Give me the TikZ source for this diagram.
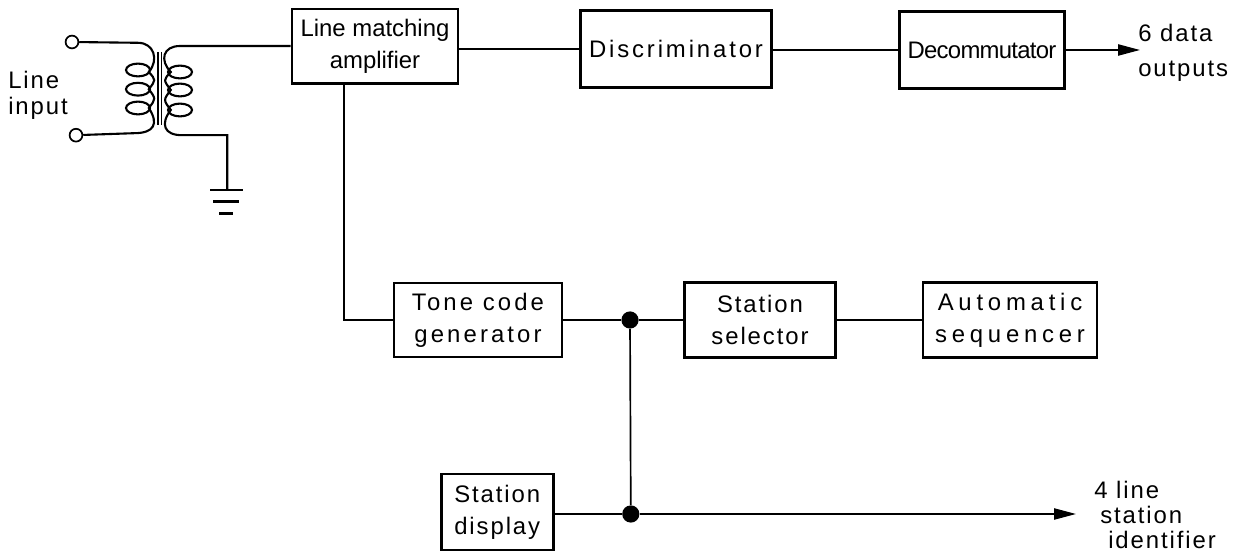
\documentclass[tikz,border=0pt]{standalone}
\usepackage{fontspec}
\setmainfont[LetterSpace=8]{Liberation Sans}
\usetikzlibrary{arrows.meta, positioning, calc}
\tikzset{
    blockbox/.style={draw, rectangle, line width=2.1pt, inner sep=0pt, align=center, font=\fontsize{17}{23}\selectfont},
    tightbox/.style={blockbox, font=\fontsize{17}{23}\selectfont\addfontfeature{LetterSpace=0}},
    widebox/.style={blockbox, font=\fontsize{17}{23}\selectfont\addfontfeature{LetterSpace=#1}},
    wire/.style={line width=1.2pt},
    coilwire/.style={line width=1.5pt},
    outarrow/.style={line width=1.2pt, -{Stealth[length=5.5mm, width=2.8mm, inset=0pt]}},
    junction/.style={circle, fill=black, inner sep=0pt, minimum size=0.43cm},
    terminal/.style={circle, draw, line width=1.2pt, fill=white, inner sep=0pt, minimum size=0.32cm},
    lbl/.style={inner sep=0pt, anchor=west, font=\fontsize{17}{23}\selectfont},
}
\begin{document}
\begin{tikzpicture}
    \useasboundingbox (0,0) rectangle (31.1,13.8);
    % blocks
    \node[tightbox, minimum width=4.15cm, minimum height=1.87cm] (amp) at (9.375,12.64) {Line matching\\amplifier};
    \node[widebox=12, minimum width=4.78cm, minimum height=1.92cm] (disc) at (16.9,12.57) {Discriminator};
    \node[widebox=-3, minimum width=4.12cm, minimum height=1.92cm] (decom) at (24.55,12.55) {Decommutator};
    \node[widebox=13, minimum width=4.2cm, minimum height=1.85cm] (tone) at (11.95,5.8) {Tone code\\generator};
    \node[blockbox, minimum width=3.77cm, minimum height=1.87cm] (sel) at (19.0,5.8) {Station\\selector};
    \node[widebox=20, minimum width=4.35cm, minimum height=1.87cm] (seq) at (25.25,5.8) {Automatic\\sequencer};
    \node[blockbox, minimum width=2.8cm, minimum height=1.9cm] (disp) at (12.43,1.0) {Station\\display};

    \node[junction] (dota) at (15.75,5.8) {};
    \node[junction] (dotb) at (15.77,0.95) {};
    \coordinate (out1) at (28.5,12.55);
    \coordinate (out2) at (26.9,0.95);
    \coordinate (turn) at (8.6,5.8);

    % signal path
    \draw[wire] (amp.east |- disc.west) -- (disc.west);
    \draw[wire] (disc.east |- decom.west) -- (decom.west);
    \draw[outarrow] (decom.east) -- (out1);
    \draw[wire] (amp.south -| turn) -- (turn) -- (tone.west);
    \draw[wire] (tone.east) -- (dota) -- (sel.west);
    \draw[wire] (sel.east) -- (seq.west);
    \draw[wire] (dota) -- (dotb);
    \draw[wire] (disp.east |- dotb) -- (dotb);
    \draw[outarrow] (dotb) -- (out2);

    % transformer
    \node[terminal] (ina) at (1.8,12.75) {};
    \node[terminal] (inb) at (1.9,10.42) {};
    \coordinate (gnd) at (5.68,9.05);
    \coordinate (gndl) at (5.25,9.05);
    \coordinate (gndr) at (6.08,9.05);
    \draw[coilwire] (ina) -- (3.45,12.73) .. controls (3.85,12.73) and (3.98,12.3) .. (3.72,12.0)
        .. controls (3.9,11.8) .. (3.72,11.57) .. controls (3.9,11.33) .. (3.72,11.1)
        .. controls (3.98,10.7) and (3.85,10.47) .. (3.35,10.47) -- (inb);
    \foreach \cy in {12.05,11.57,11.1}
        \draw[coilwire] (3.45,\cy) ellipse (0.3 and 0.16);
    \draw[line width=0.8pt] (3.95,12.5) -- (3.95,10.68);
    \draw[line width=0.8pt] (4.03,12.5) -- (4.03,10.68);
    \draw[coilwire] (amp.west |- 0,12.65) -- (4.5,12.65) .. controls (4.08,12.65) and (3.98,12.3) .. (4.27,12.0)
        .. controls (4.08,11.8) .. (4.27,11.55) .. controls (4.08,11.3) .. (4.27,11.05)
        .. controls (4.0,10.7) and (4.1,10.42) .. (4.55,10.42) -- (5.68,10.42) -- (gnd);
    \foreach \cy in {12.0,11.55,11.05}
        \draw[coilwire] (4.5,\cy) ellipse (0.3 and 0.16);
    % ground
    \draw[line width=1.9pt] (gndl) -- (gndr);
    \draw[line width=1.9pt] (5.33,8.77) -- (5.97,8.77);
    \draw[line width=1.9pt] (5.48,8.47) -- (5.82,8.47);

    % labels
    \node[lbl] (linein) at (0.2,11.8) {Line};
    \node[lbl] (lineinb) at (0.2,11.1) {input};
    \node[lbl] (dataa) at (28.45,12.98) {6 data};
    \node[lbl] (datab) at (28.45,12.03) {outputs};
    \node[lbl] (ida) at (27.35,1.55) {4 line};
    \node[lbl] (idb) at (27.5,0.93) {station};
    \node[lbl] (idc) at (27.7,0.3) {identifier};
\end{tikzpicture}
\end{document}
